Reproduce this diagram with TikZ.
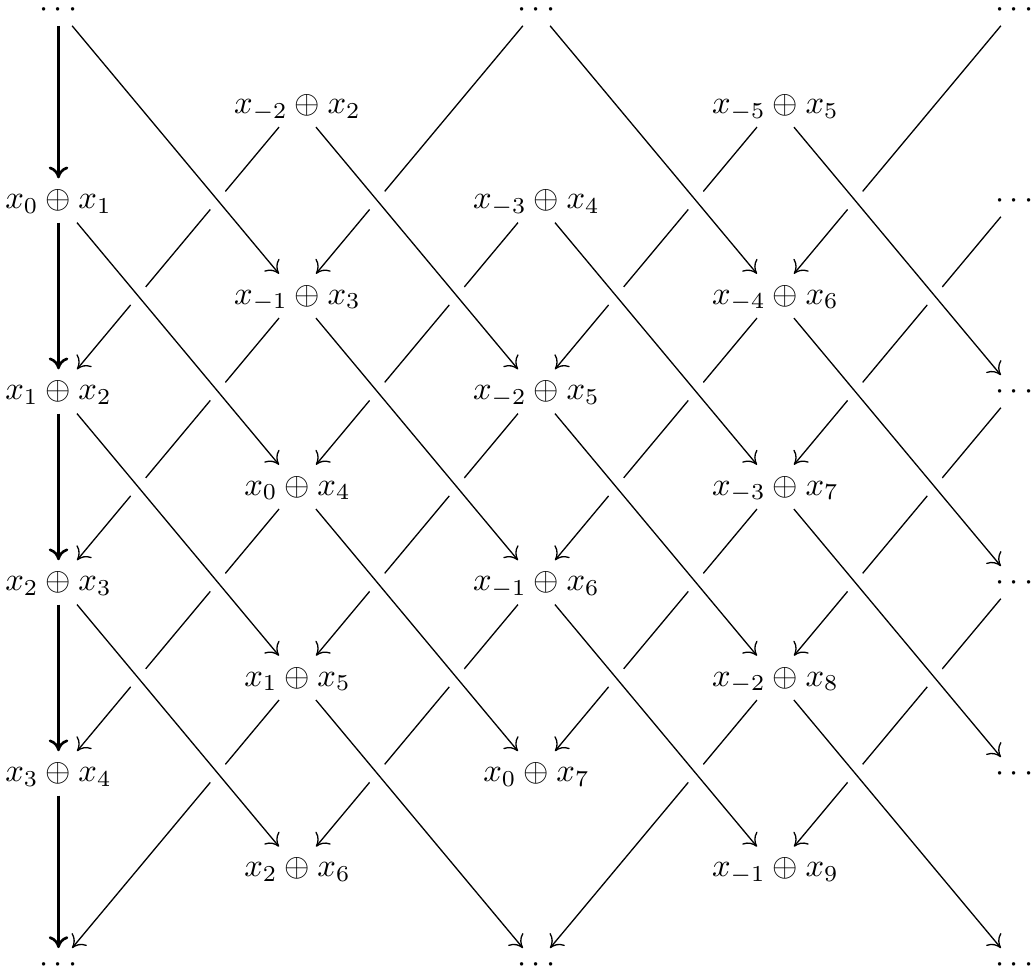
\documentclass[tikz,border=0pt]{standalone}
\usepackage{tikz}
\usetikzlibrary{arrows.meta}

\begin{document}
\begin{tikzpicture}[>={Computer Modern Rightarrow[length=3.6pt, width=6pt]}, x=73.31pt, y=29.29pt,
    sumnode/.style={inner xsep=3pt, inner ysep=2.8pt, text height=6.3pt, text depth=1.3pt},
    dotsnode/.style={inner xsep=1pt, inner ysep=1pt, text height=6.3pt, text depth=1.3pt},
    spine/.style={->, thick},
    overpass/.style={->, preaction={draw, white, -, line width=7pt}}]
    \useasboundingbox (-0.2448,0.0994) rectangle (4.0735,-10.08);

    % dots on the border
    \node[dotsnode] (dotsTL) at (0,0) {$\cdots$};
    \node[dotsnode] (dotsTM) at (2,0) {$\cdots$};
    \node[dotsnode] (dotsTR) at (4,0) {$\cdots$};
    \node[dotsnode] (dotsR2) at (4,-2) {$\cdots$};
    \node[dotsnode] (dotsR4) at (4,-4) {$\cdots$};
    \node[dotsnode] (dotsR6) at (4,-6) {$\cdots$};
    \node[dotsnode] (dotsR8) at (4,-8) {$\cdots$};
    \node[dotsnode] (dotsBL) at (0,-10) {$\cdots$};
    \node[dotsnode] (dotsBM) at (2,-10) {$\cdots$};
    \node[dotsnode] (dotsBR) at (4,-10) {$\cdots$};

    % first column
    \node[sumnode] (s01) at (0,-2) {$x_0 \oplus x_1$};
    \node[sumnode] (s12) at (0,-4) {$x_1 \oplus x_2$};
    \node[sumnode] (s23) at (0,-6) {$x_2 \oplus x_3$};
    \node[sumnode] (s34) at (0,-8) {$x_3 \oplus x_4$};

    % second column
    \node[sumnode] (sm22) at (1,-1) {$x_{-2} \oplus x_2$};
    \node[sumnode] (sm13) at (1,-3) {$x_{-1} \oplus x_3$};
    \node[sumnode] (s04) at (1,-5) {$x_0 \oplus x_4$};
    \node[sumnode] (s15) at (1,-7) {$x_1 \oplus x_5$};
    \node[sumnode] (s26) at (1,-9) {$x_2 \oplus x_6$};

    % third column
    \node[sumnode] (sm34) at (2,-2) {$x_{-3} \oplus x_4$};
    \node[sumnode] (sm25) at (2,-4) {$x_{-2} \oplus x_5$};
    \node[sumnode] (sm16) at (2,-6) {$x_{-1} \oplus x_6$};
    \node[sumnode] (s07) at (2,-8) {$x_0 \oplus x_7$};

    % fourth column
    \node[sumnode] (sm55) at (3,-1) {$x_{-5} \oplus x_5$};
    \node[sumnode] (sm46) at (3,-3) {$x_{-4} \oplus x_6$};
    \node[sumnode] (sm37) at (3,-5) {$x_{-3} \oplus x_7$};
    \node[sumnode] (sm28) at (3,-7) {$x_{-2} \oplus x_8$};
    \node[sumnode] (sm19) at (3,-9) {$x_{-1} \oplus x_9$};

    % arrows down to the left
    \draw[->] (sm22) -- (s12);
    \draw[->] (sm13) -- (s23);
    \draw[->] (s04) -- (s34);
    \draw[->] (s15) -- (dotsBL);
    \draw[->] (dotsTM) -- (sm13);
    \draw[->] (sm34) -- (s04);
    \draw[->] (sm25) -- (s15);
    \draw[->] (sm16) -- (s26);
    \draw[->] (sm55) -- (sm25);
    \draw[->] (sm46) -- (sm16);
    \draw[->] (sm37) -- (s07);
    \draw[->] (sm28) -- (dotsBM);
    \draw[->] (dotsTR) -- (sm46);
    \draw[->] (dotsR2) -- (sm37);
    \draw[->] (dotsR4) -- (sm28);
    \draw[->] (dotsR6) -- (sm19);

    % the first column
    \draw[spine] (dotsTL) -- (s01);
    \draw[spine] (s01) -- (s12);
    \draw[spine] (s12) -- (s23);
    \draw[spine] (s23) -- (s34);
    \draw[spine] (s34) -- (dotsBL);

    % arrows down to the right, over the others
    \draw[overpass] (dotsTL) -- (sm13);
    \draw[overpass] (s01) -- (s04);
    \draw[overpass] (s12) -- (s15);
    \draw[overpass] (s23) -- (s26);
    \draw[overpass] (sm22) -- (sm25);
    \draw[overpass] (sm13) -- (sm16);
    \draw[overpass] (s04) -- (s07);
    \draw[overpass] (s15) -- (dotsBM);
    \draw[overpass] (dotsTM) -- (sm46);
    \draw[overpass] (sm34) -- (sm37);
    \draw[overpass] (sm25) -- (sm28);
    \draw[overpass] (sm16) -- (sm19);
    \draw[overpass] (sm55) -- (dotsR4);
    \draw[overpass] (sm46) -- (dotsR6);
    \draw[overpass] (sm37) -- (dotsR8);
    \draw[overpass] (sm28) -- (dotsBR);
\end{tikzpicture}
\end{document}
